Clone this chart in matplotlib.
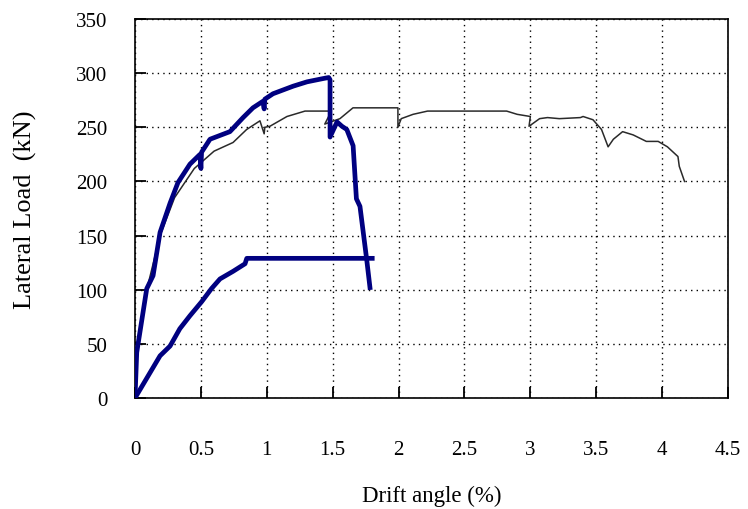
import matplotlib.pyplot as plt

# --- Veri (okunan degerler) ---
# kalin mavi egri: yukselen kol + tepe + dusus
blue_x = [0, 0.013, 0.089, 0.137, 0.19, 0.266, 0.326, 0.417, 0.493, 0.50, 0.505,
          0.569, 0.72, 0.82, 0.895, 0.97, 0.98, 0.985, 1.047, 1.2, 1.305, 1.426,
          1.47, 1.48, 1.48, 1.533, 1.57, 1.607, 1.655, 1.68, 1.707, 1.758, 1.783]
blue_y = [0, 42, 101, 113, 153, 180, 199, 216, 225, 212, 227,
          239, 246, 259, 268, 274, 267, 276, 281, 288, 292, 295,
          296, 294, 241, 255, 251, 248, 233, 184, 177, 128, 102]

# kalin mavi egri: alt kol + yatay bolum
blue2_x = [0, 0.19, 0.266, 0.34, 0.417, 0.506, 0.58, 0.645, 0.744, 0.835, 0.848, 1.80]
blue2_y = [0, 39, 48, 64, 76, 89, 101, 110, 117, 124, 129, 129]

# ince siyah egri
black_x = [0, 0.012, 0.085, 0.19, 0.3, 0.45, 0.6, 0.744, 0.847, 0.948, 0.98, 0.985,
           1.024, 1.153, 1.29, 1.464, 1.49, 1.44, 1.555, 1.654, 1.995, 1.995, 2.02,
           2.11, 2.22, 2.82, 2.9, 3.0, 2.99, 3.07, 3.13, 3.22, 3.38, 3.40, 3.475,
           3.54, 3.59, 3.63, 3.70, 3.78, 3.88, 3.97, 4.04, 4.12, 4.13, 4.17]
black_y = [0, 40, 98, 150, 185, 212, 228, 236, 248, 256, 244, 250,
           251, 260, 265, 265, 265, 253, 258, 268, 268, 250, 258,
           262, 265, 265, 262, 260, 251, 258, 259, 258, 259, 260, 257,
           248, 232, 239, 246, 243, 237, 237, 232, 223, 214, 200]

x_ticks = [0, 0.5, 1, 1.5, 2, 2.5, 3, 3.5, 4, 4.5]
x_tick_labels = ["0", "0.5", "1", "1.5", "2", "2.5", "3", "3.5", "4", "4.5"]
y_ticks = [0, 50, 100, 150, 200, 250, 300, 350]

plt.rcParams['font.family'] = ['Liberation Serif', 'DejaVu Serif']

fig = plt.figure(figsize=(7.48, 5.10), dpi=100)
ax = fig.add_axes([0.1805, 0.2176, 0.7928, 0.7431])

ax.plot(black_x, black_y, color="#2a2a2a", lw=1.1, zorder=3)
ax.plot(blue2_x, blue2_y, color="#000080", lw=3.4, zorder=4, solid_joinstyle="round")
ax.plot(blue_x, blue_y, color="#000080", lw=3.4, zorder=4, solid_joinstyle="round")

ax.set_xlim(0, 4.5)
ax.set_ylim(0, 350)
ax.set_xticks(x_ticks)
ax.set_xticklabels(x_tick_labels)
ax.set_yticks(y_ticks)

ax.grid(True, color="black", lw=1.0, linestyle=(0, (1, 3)))
ax.tick_params(axis="both", direction="in", length=8, width=1.3, labelsize=15)
ax.tick_params(axis="x", pad=30)
ax.tick_params(axis="y", pad=20)
for s in ax.spines.values():
    s.set_linewidth(1.2)

ax.set_xlabel("Drift angle (%)", fontsize=16.5)
ax.xaxis.set_label_coords(0.5, -0.258)
ax.xaxis.label.set_va("center")
ax.set_ylabel("Lateral Load  (kN)", fontsize=19)
ax.yaxis.set_label_coords(-0.184, 0.5)
ax.yaxis.label.set_va("center")

plt.savefig("out.png", dpi=100)
plt.close()
